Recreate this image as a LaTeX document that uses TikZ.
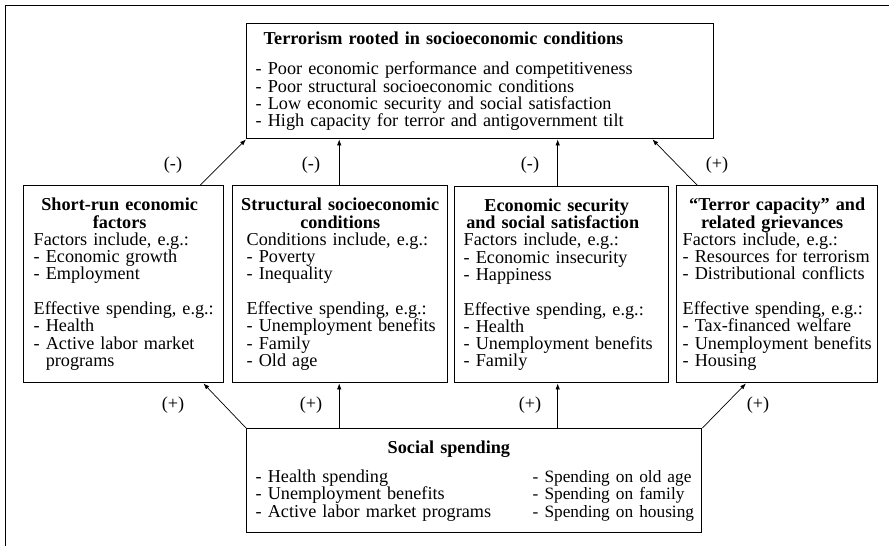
\documentclass[tikz,border=0pt]{standalone}
\usepackage{fontspec}
\setmainfont{Liberation Serif}
\usetikzlibrary{arrows.meta,positioning}

\begin{document}
\begin{tikzpicture}[x=1pt,y=-1pt,
	box/.style={draw,line width=1.4pt,anchor=north west,inner ysep=0pt,align=left,
		font=\fontsize{18.2}{17.3}\selectfont},
	link/.style={-{Latex[length=6pt,width=4.5pt]},line width=0.7pt},
	sign/.style={font=\fontsize{18.2}{17.3}\selectfont}]
	\newcommand\Ttl[1]{\makebox[\linewidth]{\bfseries #1}}
	\newcommand\Keep{\rightskip=0pt plus 1fil minus 60pt\hyphenpenalty=10000\exhyphenpenalty=10000\relax}
	\newcommand\Rcol[1]{\mbox{\fontsize{17.3}{17.3}\selectfont #1}}
	\useasboundingbox (0,0) rectangle (889,546);
	\draw[line width=1.8pt] (5.5,560) -- (5.5,5.5) -- (900,5.5);

	% top box
	\node[box,text width=449pt,inner xsep=9pt,minimum height=115pt] (tr) at (246,23)
		{\Keep\hspace*{8pt}\textbf{Terrorism rooted in socioeconomic conditions}\\[13pt]
		- Poor economic performance and competitiveness\\
		- Poor structural socioeconomic conditions\\
		- Low economic security and social satisfaction\\
		- High capacity for terror and antigovernment tilt};

	% middle boxes
	\node[box,text width=180pt,inner xsep=10pt,minimum height=197pt] (sr) at (23,185)
		{\Keep\Ttl{\hspace*{-8pt}Short-run economic}\\
		\Ttl{\hspace*{-8pt}factors}\\
		Factors include, e.g.:\\
		- Economic growth\\
		- Employment\\[17.3pt]
		Effective spending, e.g.:\\
		- Health\\
		- Active labor market\\
		\phantom{-}~programs};
	\node[box,text width=187pt,inner xsep=14pt,minimum height=197pt] (sc) at (232,185)
		{\Keep\Ttl{Structural socioeconomic}\\
		\Ttl{conditions}\\
		Conditions include, e.g.:\\
		- Poverty\\
		- Inequality\\[17.3pt]
		Effective spending, e.g.:\\
		- Unemployment benefits\\
		- Family\\
		- Old age};
	\node[box,text width=196pt,inner xsep=9pt,minimum height=196pt] (es) at (454,186)
		{\Keep\Ttl{\hspace*{-10pt}Economic security}\\
		\Ttl{\hspace*{-18pt}and social satisfaction}\\
		Factors include, e.g.:\\
		- Economic insecurity\\
		- Happiness\\[17.3pt]
		Effective spending, e.g.:\\
		- Health\\
		- Unemployment benefits\\
		- Family};
	\node[box,text width=189pt,inner xsep=6pt,minimum height=197pt] (tc) at (676,185)
		{\Keep\Ttl{“Terror capacity” and}\\
		\Ttl{\hspace*{-10pt}related grievances}\\
		Factors include, e.g.:\\
		- Resources for terrorism\\
		- Distributional conflicts\\[17.3pt]
		Effective spending, e.g.:\\
		- Tax-financed welfare\\
		- Unemployment benefits\\
		- Housing};

	% bottom box
	\node[box,text width=437pt,inner xsep=9pt,minimum height=104pt] (sp) at (246,428)
		{\Keep\hspace*{132pt}\textbf{Social spending}\\[12pt]
		\makebox[277pt][l]{- Health spending}\Rcol{- Spending on old age}\\
		\makebox[277pt][l]{- Unemployment benefits}\Rcol{- Spending on family}\\
		\makebox[277pt][l]{- Active labor market programs}\Rcol{- Spending on housing}};

	% effects on terrorism
	\draw[link] ([xshift=-24pt]sr.north east) -- (tr.south west);
	\draw[link] ([xshift=-1pt]sc.north) -- ([xshift=-1pt]sc.north |- tr.south);
	\draw[link] ([xshift=-4pt]es.north) -- ([xshift=-4pt]es.north |- tr.south);
	\draw[link] ([xshift=21pt]tc.north west) -- ([xshift=-62pt]tr.south east);
	\node[sign] (m1) at (173,165) {(-)};
	\node[sign] (m2) at (311,165) {(-)};
	\node[sign] (m3) at (530,165) {(-)};
	\node[sign] (m4) at (717,165) {(+)};

	% effects of spending
	\draw[link] (sp.north west) -- ([xshift=-21pt]sr.south east);
	\draw[link] ([xshift=-1pt]sc.south |- sp.north) -- ([xshift=-1pt]sc.south);
	\draw[link] ([xshift=-4pt]es.south |- sp.north) -- ([xshift=-4pt]es.south);
	\draw[link] (sp.north east) -- ([xshift=70pt]tc.south west);
	\node[sign] (p1) at (173,405) {(+)};
	\node[sign] (p2) at (311,405) {(+)};
	\node[sign] (p3) at (530,405) {(+)};
	\node[sign] (p4) at (758,405) {(+)};
\end{tikzpicture}
\end{document}
